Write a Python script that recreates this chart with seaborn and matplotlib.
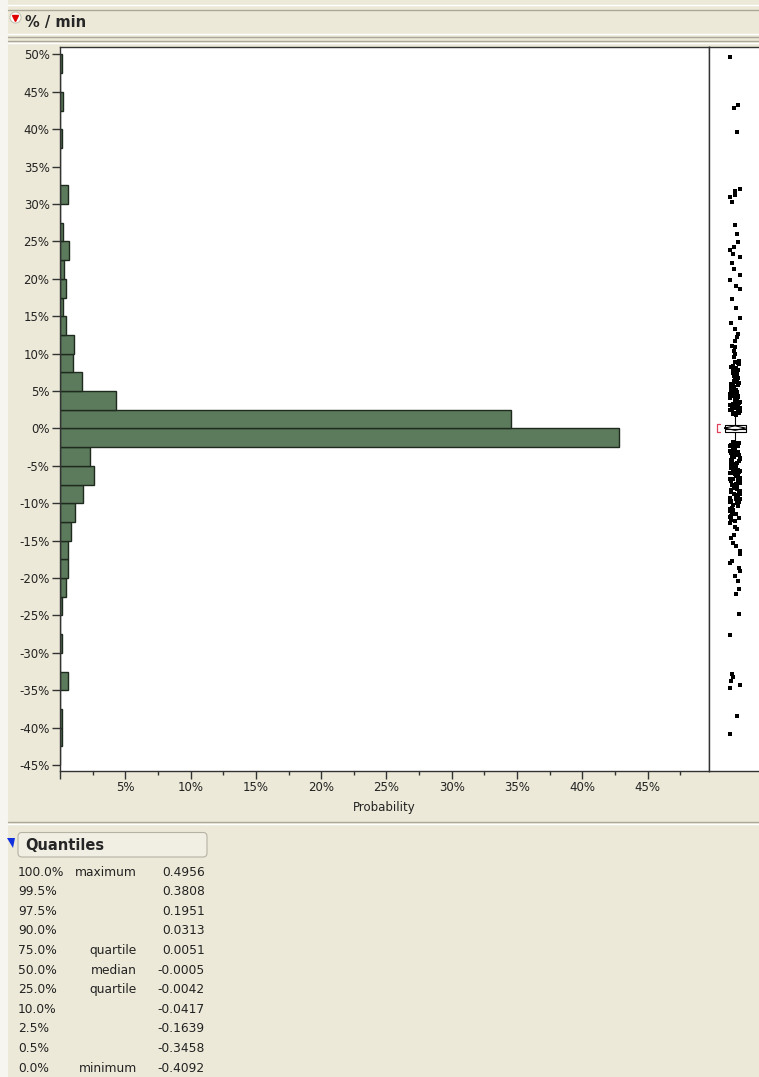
import numpy as np
import pandas as pd
import matplotlib
matplotlib.use("Agg")
import matplotlib.pyplot as plt
from matplotlib.patches import FancyBboxPatch, Polygon, Rectangle
from matplotlib.lines import Line2D
from matplotlib.ticker import MultipleLocator, FuncFormatter
import seaborn as sns

# histogram: lower edge of each non-empty 2.5% bin (in %) and its probability (in %)
bin_lower = [47.5, 42.5, 37.5, 30.0, 25.0, 22.5, 20.0, 17.5, 15.0, 12.5, 10.0, 7.5, 5.0, 2.5, 0.0,
             -2.5, -5.0, -7.5, -10.0, -12.5, -15.0, -17.5, -20.0, -22.5, -25.0, -30.0, -35.0, -40.0, -42.5]
bin_prob = [0.13, 0.26, 0.13, 0.64, 0.26, 0.72, 0.33, 0.44, 0.23, 0.44, 1.08, 0.97, 1.72, 4.31, 34.5,
            42.8, 2.26, 2.62, 1.79, 1.18, 0.82, 0.64, 0.64, 0.44, 0.13, 0.13, 0.64, 0.13, 0.13]

# points shown outside the box in the outlier box plot (in %)
points_hi = [49.6, 43.2, 42.8, 39.6, 32.0, 31.7, 31.2, 30.9, 30.3, 27.2, 26.0, 24.9, 24.3, 23.9,
             23.3, 22.9, 22.1, 21.3, 20.5, 19.8, 19.1, 18.6, 17.3, 16.1, 14.8, 14.1, 13.3, 12.6,
             12.2, 11.7, 11.0, 10.9, 10.3, 9.9, 9.6, 9.0, 8.8, 8.3, 8.1, 7.9, 7.7, 7.4, 7.3, 7.0,
             6.9, 6.5, 6.4, 6.1, 5.9, 5.8, 5.5, 5.3, 5.2, 4.9, 4.7, 4.6, 4.3, 4.1, 3.9, 3.8, 3.5,
             3.3, 3.2, 2.9, 2.8, 2.6, 2.4, 2.3, 2.1, 2.0,
             8.6, 8.2, 7.5, 7.1, 6.7, 6.2, 6.0, 5.7, 5.4, 5.1, 5.0, 4.8, 4.5, 4.4, 4.2, 4.0, 3.7,
             3.6, 3.4, 3.1, 3.0, 2.7, 2.5, 2.2, 1.9, 8.9, 7.8, 6.6, 5.6, 4.9, 4.1, 3.3, 2.6, 2.1, 1.8]
points_lo = [-1.9, -2.0, -2.3, -2.4, -2.6, -2.9, -3.0, -3.2, -3.5, -3.6, -3.9, -4.2, -4.3, -4.6,
             -4.8, -5.0, -5.2, -5.3, -5.6, -5.8, -6.0, -6.1, -6.4, -6.6, -6.7, -7.0, -7.2, -7.3,
             -7.6, -7.9, -8.0, -8.3, -8.5, -8.9, -9.1, -9.4, -9.7, -9.8, -10.2, -10.4, -10.8,
             -11.0, -11.5, -11.8, -12.2, -12.7, -13.2, -13.5, -14.3, -14.6, -15.3, -15.7, -16.4,
             -16.8, -17.7, -18.0, -18.6, -19.0, -19.7, -20.4, -21.4, -22.1, -24.8, -27.6, -32.8,
             -33.2, -33.8, -34.3, -34.7, -38.4, -40.9,
             -1.8, -2.1, -2.2, -2.5, -2.7, -2.8, -3.1, -3.3, -3.4, -3.7, -3.8, -4.0, -4.1, -4.4,
             -4.5, -4.7, -4.9, -5.1, -5.4, -5.5, -5.7, -5.9, -6.2, -6.3, -6.5, -6.8, -6.9, -7.1,
             -7.4, -7.5, -7.7, -7.8, -8.1, -8.2, -8.4, -8.7, -8.8, -9.0, -9.3, -9.5, -9.9, -10.0,
             -10.3, -10.6, -10.9, -11.2, -11.4, -11.7, -12.0, -12.4]

# quantiles table
q_levels = ["100.0%", "99.5%", "97.5%", "90.0%", "75.0%", "50.0%", "25.0%", "10.0%", "2.5%", "0.5%", "0.0%"]
q_names = ["maximum", "", "", "", "quartile", "median", "quartile", "", "", "", "minimum"]
q_values = [0.4956, 0.3808, 0.1951, 0.0313, 0.0051, -0.0005, -0.0042, -0.0417, -0.1639, -0.3458, -0.4092]

mean_pct, mean_ci = 0.05, 0.30
shortest_half = [-0.45, 0.55]

BG = "#ECE9D8"
BAR = "#5C7A5C"
W, H = 759, 1077

sns.set_style("ticks")
plt.rcParams["font.family"] = ["DejaVu Sans"]

fig = plt.figure(figsize=(W / 100, H / 100), dpi=100, facecolor=BG)
inch = fig.dpi_scale_trans


def px(x, y):
    return x / 100, (H - y) / 100


# light strip on the left edge and header rules
fig.add_artist(Rectangle(px(0, H), 0.08, H / 100, transform=inch, color="#F6F5EF", lw=0))
for yy, col in [(4.5, "#FFFFFF"), (9.5, "#ACA899"), (34, "#FFFFFF"), (36.5, "#ACA899"),
                (40.5, "#ACA899"), (43, "#FFFFFF"), (822, "#ACA899"), (824, "#FFFFFF")]:
    fig.add_artist(Line2D([8 / W, 1], [1 - yy / H] * 2, color=col, lw=1))

# header
fig.add_artist(Line2D([px(15, 0)[0]], [px(0, 17)[1]], transform=inch, marker="o", ms=8,
                      mfc="white", mec="#C8C4B4", mew=0.8))
fig.add_artist(Line2D([px(15, 0)[0]], [px(0, 17.5)[1]], transform=inch, marker="v", ms=4.5,
                      color="#E00000"))
fig.text(25 / W, 1 - 22 / H, "% / min", fontsize=10.5, fontweight="bold", va="center", ha="left")

# histogram
ax = fig.add_axes([60 / W, 1 - 771 / H, (709 - 60) / W, (771 - 47) / H])
ax.set_facecolor("white")
hist_df = pd.DataFrame({"value": [b + 1.25 for b in bin_lower], "prob": bin_prob})
bin_edges = [float(e) for e in np.arange(-45, 52.5, 2.5)]
sns.histplot(data=hist_df, y="value", weights="prob", bins=bin_edges, ax=ax,
             color=BAR, edgecolor="#1E2A1E", linewidth=1, alpha=1)
ax.set_ylim(-45.8, 51.0)
ax.set_xlim(0, 49.7)
ax.yaxis.set_major_locator(MultipleLocator(5))
ax.yaxis.set_major_formatter(FuncFormatter(lambda v, p: f"{v:.0f}%"))
ax.xaxis.set_major_locator(MultipleLocator(5))
ax.xaxis.set_minor_locator(MultipleLocator(2.5))
ax.xaxis.set_major_formatter(FuncFormatter(lambda v, p: "" if abs(v) < 1e-9 else f"{v:.0f}%"))
ax.tick_params(axis="both", labelsize=8.5, colors="#333333", labelcolor="#222222",
               length=5.5, width=1, pad=2)
ax.tick_params(axis="x", which="minor", length=3, width=1, colors="#333333")
ax.set_xlabel("Probability", fontsize=8.5, color="#222222", labelpad=5)
ax.set_ylabel("")
for s in ax.spines.values():
    s.set_color("#333333")
    s.set_linewidth(1)

# outlier box plot strip
ax2 = fig.add_axes([709 / W, 1 - 771 / H, 50 / W, (771 - 47) / H])
ax2.set_facecolor("white")
np.random.seed(7)
sns.stripplot(y=points_hi + points_lo, ax=ax2, color="black", marker="s", size=3.2,
              jitter=0.22, linewidth=0)
q = [v * 100 for v in q_values]
ax2.bxp([dict(med=q[5], q1=q[6], q3=q[4], whislo=-1.8, whishi=1.9, fliers=[])],
        positions=[0], widths=0.84, showfliers=False, showcaps=False,
        boxprops=dict(color="black", lw=0.8), whiskerprops=dict(color="black", lw=0.8),
        medianprops=dict(color="black", lw=0.8))
ax2.plot([-0.42, 0, 0.42, 0, -0.42],
         [mean_pct, mean_pct + mean_ci, mean_pct, mean_pct - mean_ci, mean_pct],
         color="black", lw=0.8)
ax2.plot([-0.62, -0.72, -0.72, -0.62],
         [shortest_half[1], shortest_half[1], shortest_half[0], shortest_half[0]],
         color="#E0405A", lw=0.9)
ax2.set_xlim(-1.04, 0.96)
ax2.set_ylim(-45.8, 51.0)
ax2.set_xticks([])
ax2.set_yticks([])
ax2.set_xlabel("")
ax2.set_ylabel("")
ax2.spines["right"].set_visible(False)
for s in ["top", "bottom", "left"]:
    ax2.spines[s].set_visible(True)
    ax2.spines[s].set_color("#333333")
    ax2.spines[s].set_linewidth(1)

# quantiles panel
fig.add_artist(FancyBboxPatch(px(18, 857), 1.89, 0.245, transform=inch,
                              boxstyle="round,pad=0,rounding_size=0.04",
                              fc="#F1EFE4", ec="#B5B2A4", lw=0.8))
fig.add_artist(Polygon([px(7, 838), px(15, 838), px(13, 848)], closed=True, transform=inch,
                       color="#1030E0", lw=0))
fig.text(25 / W, 1 - 845 / H, "Quantiles", fontsize=10.5, fontweight="bold", va="center")
for i, (lvl, name, val) in enumerate(zip(q_levels, q_names, q_values)):
    y = 1 - (872 + 19.6 * i) / H
    fig.text(18 / W, y, lvl, fontsize=8.8, va="center", ha="left", color="#222222")
    if name:
        fig.text(137 / W, y, name, fontsize=8.8, va="center", ha="right", color="#222222")
    fig.text(205 / W, y, f"{val:.4f}", fontsize=8.8, va="center", ha="right", color="#222222")

fig.savefig("out.png", dpi=100, facecolor=fig.get_facecolor())
